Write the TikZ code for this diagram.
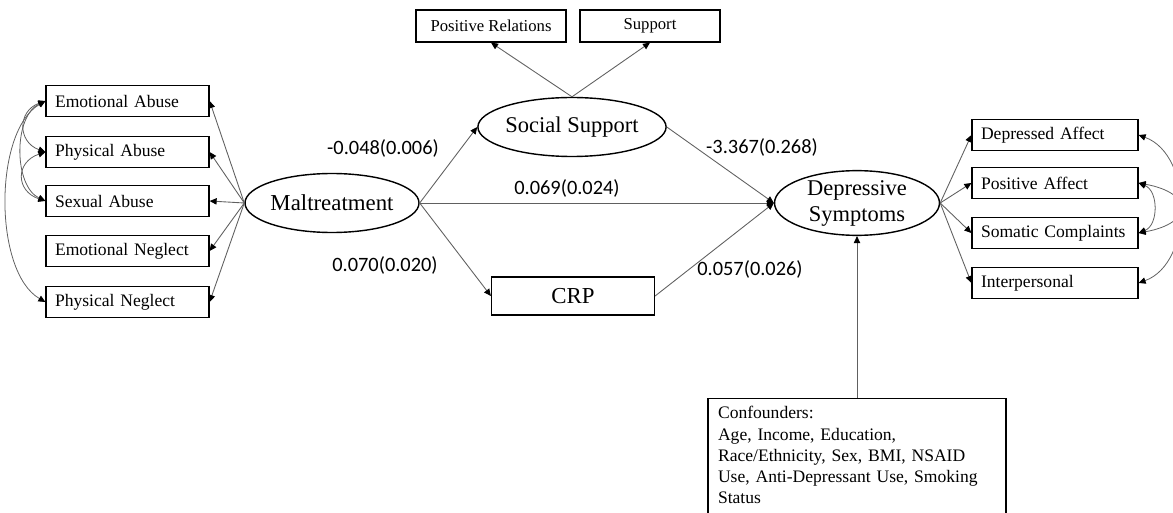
\documentclass[tikz,border=0pt]{standalone}
\usepackage{fontspec}
\setmainfont{Liberation Serif}
\newfontfamily\coeffont{Carlito}
\usetikzlibrary{arrows.meta,positioning,shapes.geometric}

\begin{document}
\begin{tikzpicture}[x=0.02cm,y=-0.02cm, % one unit = one pixel of the figure
	item/.style={draw,line width=0.7pt,minimum height=0.62cm,inner xsep=0.18cm,align=left,font=\fontsize{10}{12}\selectfont},
	latent/.style={draw,ellipse,line width=0.8pt,minimum width=3.3cm,minimum height=1.18cm,inner sep=0pt,align=center,font=\fontsize{12.8}{14.8}\selectfont},
	effect/.style={draw=gray!75!black,line width=0.5pt,-{Triangle[length=4pt,width=3.6pt,color=black]}},
	covar/.style={draw=gray!75!black,line width=0.45pt,{Triangle[length=4pt,width=3.6pt,color=black]}-{Triangle[length=4pt,width=3.6pt,color=black]}},
	coef/.style={font=\coeffont\fontsize{11.6}{13}\selectfont}]
	\useasboundingbox (0,0) rectangle (1173,513);		% page
	
	% latent variables
	\node[latent,font=\fontsize{13}{15}\selectfont] (malt) at (332,203) {Maltreatment};
	\node[latent] (soc) at (572,127) {Social Support};
	\node[latent] (dep) at (857,203) {Depressive\\Symptoms};
	\node[draw,line width=0.7pt,minimum width=3.26cm,minimum height=0.76cm,font=\fontsize{13}{15}\selectfont] (crp) at (573,296) {CRP};
	
	% maltreatment indicators
	\node[item,text width=2.9cm] (ea) at (127.5,101) {Emotional Abuse};
	\node[item,text width=2.9cm] (pa) at (127.5,152) {Physical Abuse};
	\node[item,text width=2.9cm] (sa) at (127.5,201) {Sexual Abuse};
	\node[item,text width=2.9cm] (en) at (127.5,251) {Emotional Neglect};
	\node[item,text width=2.9cm] (pn) at (127.5,302) {Physical Neglect};
	
	% social support indicators
	\node[item,align=center,minimum width=3cm,minimum height=0.64cm,font=\fontsize{9.5}{11}\selectfont] (pr) at (491,26) {Positive Relations};
	\node[item,align=center,minimum width=2.8cm,minimum height=0.64cm,font=\fontsize{9.5}{11}\selectfont] (sup) at (650,26) {Support};
	
	% depression indicators
	\node[item,text width=2.96cm] (da) at (1055,135) {Depressed Affect};
	\node[item,text width=2.96cm] (paf) at (1055,183) {Positive Affect};
	\node[item,text width=2.96cm] (sc) at (1055,233) {Somatic Complaints};
	\node[item,text width=2.96cm] (ip) at (1055,283) {Interpersonal};
	
	% confounders (box runs off the bottom)
	\node[draw,line width=0.7pt,anchor=north,text width=5.56cm,inner xsep=0.2cm,inner ysep=0.16cm,align=left,font=\fontsize{10}{12}\selectfont] (conf) at (857,398) {Confounders:\\Age, Income, Education,\\Race/Ethnicity, Sex, BMI, NSAID\\Use, Anti-Depressant Use, Smoking\\Status\\\mbox{}};
	
	% loadings
	\draw[effect] (malt.west) -- (ea.east);
	\draw[effect] (malt.west) -- (pa.east);
	\draw[effect] (malt.west) -- (sa.east);
	\draw[effect] (malt.west) -- (en.east);
	\draw[effect] (malt.west) -- (pn.east);
	\draw[effect] (soc.north) -- (pr.south);
	\draw[effect] (soc.north) -- (sup.south);
	\draw[effect] (dep.east) -- (da.west);
	\draw[effect] (dep.east) -- (paf.west);
	\draw[effect] (dep.east) -- (sc.west);
	\draw[effect] (dep.east) -- (ip.west);
	
	% structural paths
	\draw[effect] (malt.east) -- (soc.west);
	\draw[effect] (malt.east) -- (crp.west);
	\draw[effect] (malt.east) -- (dep.west);
	\draw[effect] (soc.east) -- (dep.west);
	\draw[effect] (crp.east) -- (dep.west);
	\draw[effect] (conf.north) -- (dep.south);
	
	% residual covariances
	\draw[covar] (ea.west) .. controls +(-28,10) and +(-28,-10) .. (pa.west);
	\draw[covar] (ea.west) .. controls +(-32,15) and +(-32,-15) .. (sa.west);
	\draw[covar] (pa.west) .. controls +(-30,10) and +(-30,-10) .. (sa.west);
	\draw[covar] (ea.west) .. controls +(-52,30) and +(-52,-30) .. (pn.west);
	\draw[covar] (da.east) .. controls +(55,20) and +(55,-20) .. (ip.east);
	\draw[covar] (paf.east) .. controls +(20,8) and +(20,-8) .. (sc.east);
	\draw[covar] (paf.east) .. controls +(55,10) and +(55,-10) .. (sc.east);
	
	% coefficients
	\node[coef] (bms) at (383,148) {-0.048(0.006)};
	\node[coef] (bmc) at (385,265) {0.070(0.020)};
	\node[coef] (bmd) at (567,188) {0.069(0.024)};
	\node[coef] (bsd) at (762,147) {-3.367(0.268)};
	\node[coef] (bcd) at (750,269) {0.057(0.026)};
\end{tikzpicture}
\end{document}
